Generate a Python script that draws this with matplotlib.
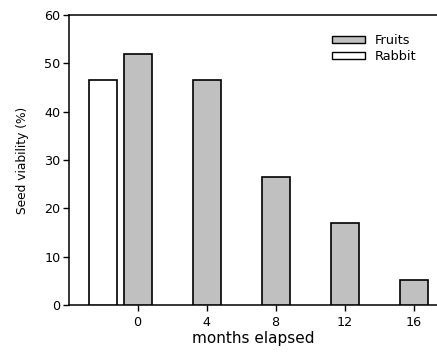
import matplotlib
matplotlib.use("Agg")
import matplotlib.pyplot as plt
from matplotlib.patches import Patch

months = [0, 4, 8, 12, 16]
fruits = [52.0, 46.5, 26.5, 17.0, 5.1]
rabbit_x = [-2]
rabbit = [46.5]
xtick_labels = ["0", "4", "8", "12", "16"]
series_names = ["Fruits", "Rabbit"]

plt.rcParams['font.family'] = ['DejaVu Sans']

fig = plt.figure(figsize=(4.37, 3.54), dpi=100)
ax = fig.add_axes([69/437, 49/354, 368/437, 290/354])

bw = 1.62
ax.bar(rabbit_x, rabbit, width=bw, color="white", edgecolor="black", linewidth=1.2, zorder=3)
ax.bar(months, fruits, width=bw, color="#c0c0c0", edgecolor="black", linewidth=1.2, zorder=3)

ax.set_xlim(-3.98, 17.35)
ax.set_ylim(0, 60)
ax.set_xticks(months)
ax.set_xticklabels(xtick_labels)
ax.set_yticks(range(0, 61, 10))

ax.spines['right'].set_visible(False)
for s in ['left', 'bottom', 'top']:
    ax.spines[s].set_linewidth(1.1)

ax.tick_params(axis='both', direction='out', length=4, width=1, labelsize=9.2, colors='black')
ax.tick_params(axis='x', pad=4)
ax.tick_params(axis='y', pad=2)

ax.set_xlabel("months elapsed", fontsize=11, labelpad=1)
ax.set_ylabel("Seed viability (%)", fontsize=8.8, labelpad=11)

handles = [Patch(facecolor="#c0c0c0", edgecolor="black", linewidth=1.0),
           Patch(facecolor="white", edgecolor="black", linewidth=1.0)]
ax.legend(handles, series_names, loc='upper left', bbox_to_anchor=(0.714, 0.935),
          frameon=False, fontsize=9.3, handlelength=2.6, handleheight=0.5,
          handletextpad=0.7, labelspacing=0.25, borderpad=0, borderaxespad=0)

fig.savefig("out.png", dpi=100)
